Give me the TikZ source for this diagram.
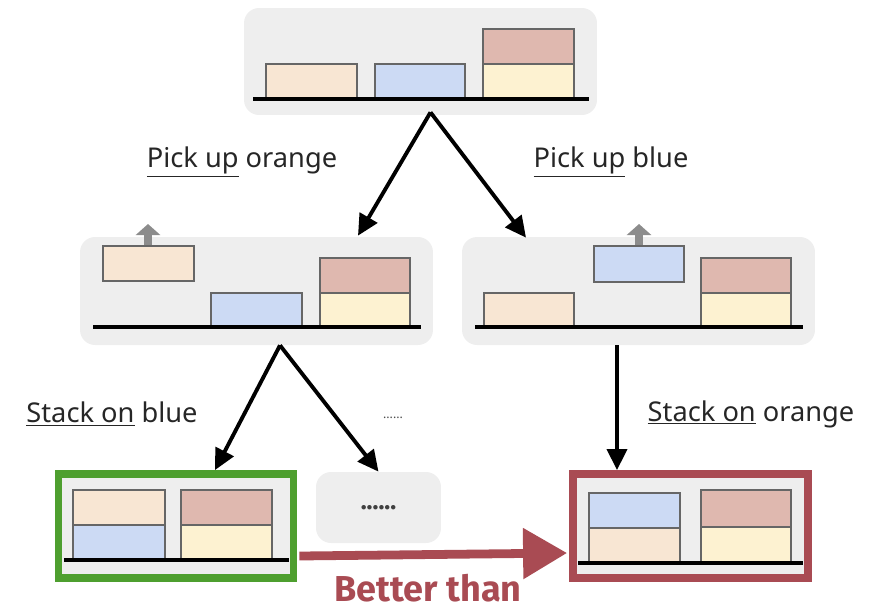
\documentclass[tikz,border=0pt]{standalone}
\usepackage{fontspec}
\setmainfont{Noto Sans}
\newfontfamily\strongfont{Fira Sans}
\usetikzlibrary{arrows.meta,calc}

\definecolor{panelgray}{HTML}{EEEEEE}
\definecolor{edgegray}{HTML}{666666}
\definecolor{liftgray}{HTML}{8C8C8C}
\definecolor{orangeblk}{HTML}{F8E6D3}
\definecolor{blueblk}{HTML}{CCDAF4}
\definecolor{yellowblk}{HTML}{FDF2D1}
\definecolor{pinkblk}{HTML}{DFB8AF}
\definecolor{goodgreen}{HTML}{4E9F2F}
\definecolor{badred}{HTML}{A94B53}

\tikzset{
  panel/.style={fill=panelgray, rounded corners=0.3cm, inner sep=0pt},
  frame/.style={fill=panelgray, draw=#1, line width=4.5pt, inner sep=0pt,
    minimum width=4.7cm, minimum height=2.08cm},
  blk/.style={draw=edgegray, line width=0.9pt, fill=#1},
  floor/.style={line width=2.8pt},
  move/.style={-{Triangle[length=0.42cm,width=0.4cm]}, line width=2.2pt},
  lift/.style={liftgray, line width=0.16cm, -{Triangle[length=0.22cm,width=0.48cm]}},
  lbl/.style={font=\fontsize{15.5}{18}\selectfont, text=black!85},
}

\begin{document}
\begin{tikzpicture}[x=0.02cm, y=-0.02cm]
  \useasboundingbox (0,0) rectangle (884,609);

  % start state
  \node[panel, minimum width=7.06cm, minimum height=2.14cm] (s0) at (420.5,61.5) {};
  \draw[blk=orangeblk] (266,64) rectangle (357,98);
  \draw[blk=blueblk] (375,64) rectangle (465,98);
  \draw[blk=yellowblk] (483,64) rectangle (574,98);
  \draw[blk=pinkblk] (483,29) rectangle (574,64);
  \draw[floor] (253,99) -- (589,99);

  % orange lifted
  \node[panel, minimum width=7.06cm, minimum height=2.16cm] (s1) at (256.5,291) {};
  \draw[lift] (148,247) -- (148,224);
  \draw[blk=orangeblk] (103,246) rectangle (194,281);
  \draw[blk=blueblk] (211,293) rectangle (302,327);
  \draw[blk=yellowblk] (320,293) rectangle (410,327);
  \draw[blk=pinkblk] (320,258) rectangle (410,293);
  \draw[floor] (93,327) -- (421,327);

  % blue lifted
  \node[panel, minimum width=7.06cm, minimum height=2.16cm] (s2) at (638.5,291) {};
  \draw[lift] (639,247) -- (639,224);
  \draw[blk=orangeblk] (484,293) rectangle (574,327);
  \draw[blk=blueblk] (594,246) rectangle (684,282);
  \draw[blk=yellowblk] (701,293) rectangle (791,327);
  \draw[blk=pinkblk] (701,258) rectangle (791,293);
  \draw[floor] (475,327) -- (803,327);

  % orange on blue
  \node[frame=goodgreen] (s3) at (176,526) {};
  \draw[blk=blueblk] (73,525) rectangle (165,560);
  \draw[blk=orangeblk] (73,490) rectangle (165,525);
  \draw[blk=yellowblk] (181,525) rectangle (272,560);
  \draw[blk=pinkblk] (181,490) rectangle (272,525);
  \draw[floor] (64,560) -- (289,560);

  % other branches
  \node[panel, minimum width=2.5cm, minimum height=1.42cm] (s5) at (378.5,507.5)
    {\fontsize{14}{16}\selectfont\strongfont\bfseries\color{black!75}......};

  % blue on orange
  \node[frame=badred] (s4) at (690.5,526) {};
  \draw[blk=orangeblk] (589,528) rectangle (680,562);
  \draw[blk=blueblk] (589,493) rectangle (680,528);
  \draw[blk=yellowblk] (701,527) rectangle (791,562);
  \draw[blk=pinkblk] (701,490) rectangle (791,527);
  \draw[floor] (578,563) -- (803,563);

  % actions
  \draw[move] ($(s0.south)+(10,-3)$) -- ($(s1.north)+(101.5,-1)$);
  \draw[move] ($(s0.south)+(10,-3)$) -- ($(s2.north)+(-112.5,1)$);
  \draw[move] ($(s1.south)+(23.5,0)$) -- ($(s3.north)+(39,0)$);
  \draw[move] ($(s1.south)+(23.5,0)$) -- (s5.north);
  \draw[move] ($(s2.south)+(-21.5,0)$) -- ($(s4.north)+(-73.5,0)$);

  \node[lbl] at (242,162) {\underline{Pick up} orange};
  \node[lbl] at (611,162) {\underline{Pick up} blue};
  \node[lbl] at (112,414) {\underline{Stack on} blue};
  \node[lbl] at (751,414) {\underline{Stack on} orange};
  \node[font=\scriptsize, text=black!70] at (393,418) {......};

  % comparison
  \draw[badred, line width=5pt,
    -{Triangle[length=0.88cm,width=0.98cm]}] ($(s3.east)+(2,30)$) -- ($(s4.west)+(-2,27)$);
  \node[inner sep=0pt, font=\fontsize{20.5}{24}\selectfont\strongfont\bfseries, text=badred]
    at (428,588) {Better than};
\end{tikzpicture}
\end{document}
